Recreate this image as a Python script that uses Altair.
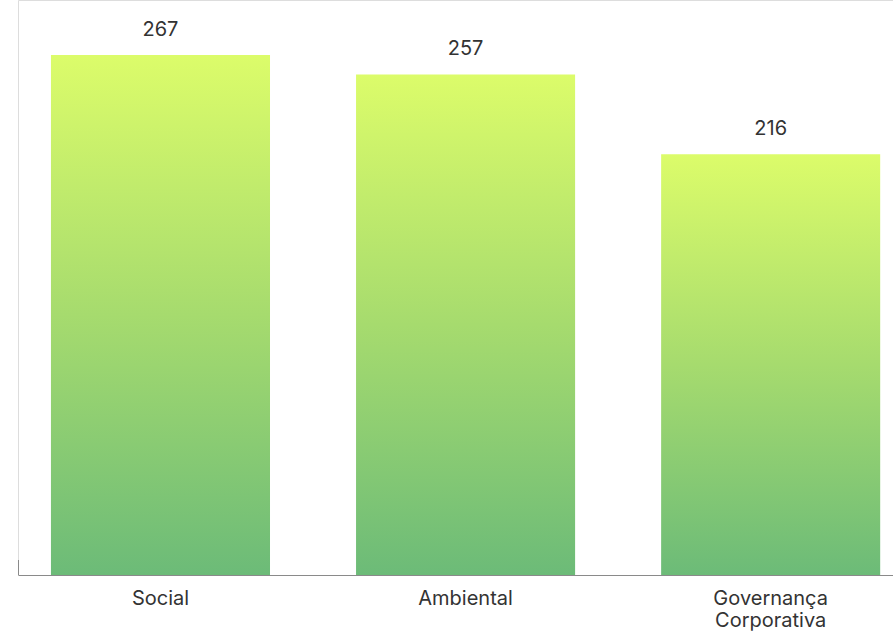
import altair as alt
import pandas as pd

categories = ["Social", "Ambiental", "Governança Corporativa"]
values = [267, 257, 216]

df = pd.DataFrame({"categoria": categories, "valor": values})

gradient = alt.Gradient(
    gradient="linear",
    stops=[
        alt.GradientStop(color="#6cbb78", offset=0),
        alt.GradientStop(color="#a6db6e", offset=0.5),
        alt.GradientStop(color="#dcfc6a", offset=1),
    ],
    x1=1, x2=1, y1=1, y2=0,
)

x = alt.X(
    "categoria:N",
    sort=categories,
    title=None,
    scale=alt.Scale(paddingInner=0.282, paddingOuter=0.075, align=0.72),
    axis=alt.Axis(
        labelAngle=0,
        labelFont="Inter",
        labelFontSize=20,
        labelColor="#333333",
        labelPadding=13,
        labelLineHeight=22,
        labelExpr="datum.label == 'Governança Corporativa' ? ['Governança', 'Corporativa'] : datum.label",
        ticks=False,
        domainColor="#8a8a8a",
        domainWidth=1,
    ),
)
y = alt.Y(
    "valor:Q",
    title=None,
    scale=alt.Scale(domain=[0, 295.2], nice=False),
    axis=None,
)

bars = alt.Chart(df).mark_bar(color=gradient).encode(x=x, y=y)
labels = alt.Chart(df).mark_text(
    dy=-25, font="Inter", fontSize=20, color="#333333"
).encode(x=x, y=y, text="valor:Q")

stub = alt.Chart(pd.DataFrame({"a": [0]})).mark_rule(color="#8a8a8a", strokeWidth=1).encode(
    x=alt.value(0.5), y=alt.value(560), y2=alt.value(575)
)

chart = (
    alt.layer(bars, labels, stub)
    .properties(
        width=875,
        height=575,
        autosize=alt.AutoSizeParams(type="none"),
        padding={"left": 18, "top": 0, "right": 0, "bottom": 58},
    )
    .configure_view(strokeWidth=0, stroke="transparent")
    .configure(background="white")
)

chart.save("out.html", embed_options={"renderer": "svg", "actions": False})
